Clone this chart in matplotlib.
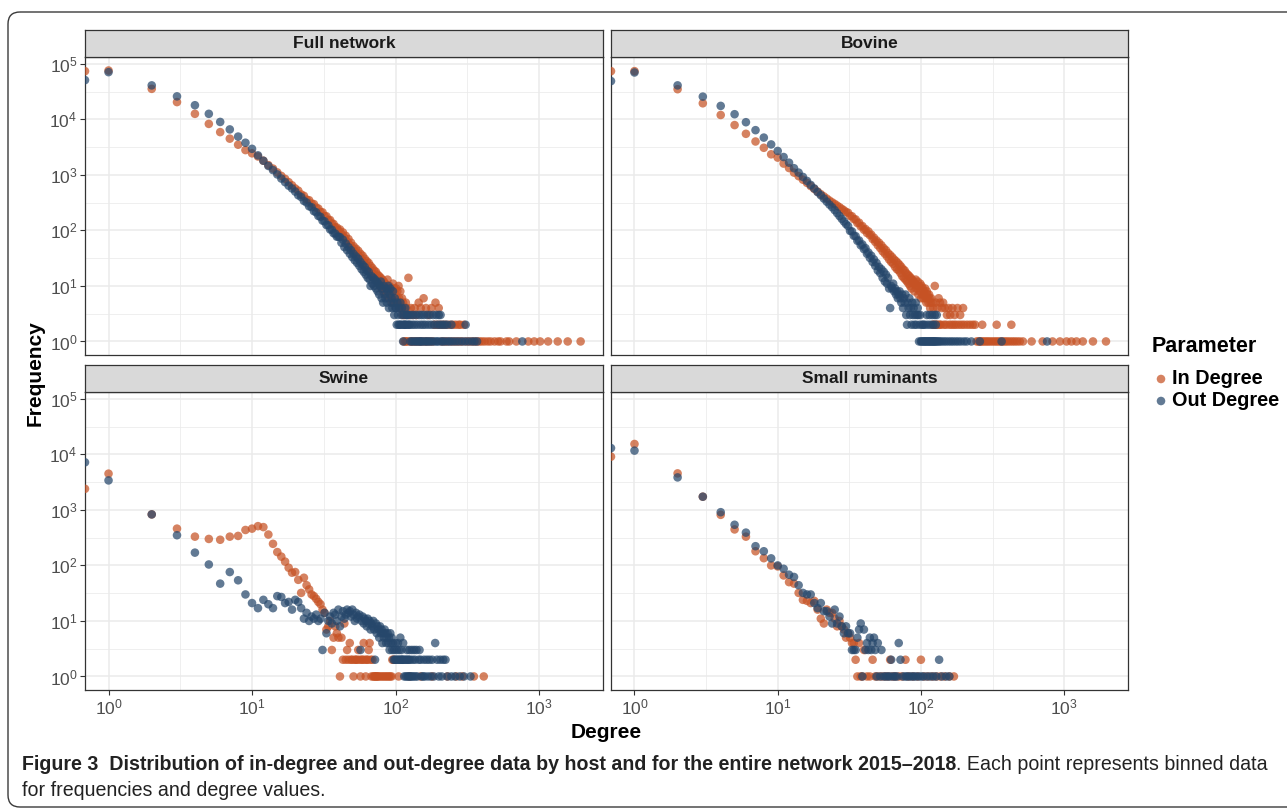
import numpy as np
import matplotlib.pyplot as plt
from matplotlib import font_manager
from matplotlib.ticker import NullFormatter
from matplotlib.patches import FancyBboxPatch

plt.rcParams['font.family'] = ['Liberation Sans', 'DejaVu Sans']
plt.rcParams['mathtext.fontset'] = 'custom'
plt.rcParams['mathtext.rm'] = 'Liberation Sans'
plt.rcParams['mathtext.it'] = 'Liberation Sans:italic'
plt.rcParams['mathtext.bf'] = 'Liberation Sans:bold'

# ---------------- data ----------------
# *_run: frequency for degree 0, 1, 2, ... (consecutive degrees)
# *_xd / *_xf: further (degree, frequency) points
# *_f1, *_f2, *_f3: degrees seen at frequency 1, 2, 3

full_in_run = [74000, 76000, 35500, 20500, 12600, 8300, 5900, 4500, 3500, 2800, 2450,
               2150, 1800, 1500, 1300, 1110, 960, 850, 740, 650, 570,
               520, 445, 420, 360, 350, 305, 298, 258, 248, 215,
               212, 182, 180, 155, 154, 133, 131, 114, 113, 100,
               104, 86, 92, 74, 80, 63, 70, 55, 60, 48,
               52, 42, 47, 37, 43, 33, 38, 30, 35, 27,
               31, 24, 28, 21, 26, 19, 23, 17, 21, 16,
               19, 14, 18, 13, 16, 11, 15, 10, 14, 9,
               13, 8, 12, 9, 11, 7, 10, 13, 8, 6,
               10, 7, 9, 5, 8, 11, 6, 9, 5, 7]
full_in_xd = [101, 102, 103, 104, 105, 106, 107, 108, 109, 110, 111, 112, 113, 115, 116,
              118, 120, 123, 125, 128, 132, 136, 140, 145, 150, 157, 163, 170, 178, 190, 200]
full_in_xf = [9, 6, 8, 5, 10, 6, 4, 8, 5, 4, 6, 3, 5, 4, 3,
              5, 4, 14, 3, 4, 3, 4, 3, 5, 4, 6, 4, 3, 4, 5, 4]
full_in_f2 = [186, 195, 205, 215, 225, 238, 250, 262, 275, 283, 300]
full_in_f1 = [114, 117, 119, 122, 127, 130, 134, 138, 143, 148, 153, 160, 166, 174, 182,
              210, 220, 230, 244, 256, 268, 280, 292, 310, 325, 340, 355, 370, 385, 400,
              418, 440, 460, 490, 520, 540, 594, 620, 695, 842, 926, 1018, 1157, 1350,
              1585, 1950]

full_out_run = [51000, 71000, 41000, 26000, 18000, 12600, 9000, 6600, 4900, 3800, 2950,
                2250, 1800, 1450, 1220, 1020, 860, 740, 640, 570, 500,
                430, 400, 340, 318, 272, 262, 222, 212, 182, 176,
                150, 146, 125, 124, 104, 103, 89, 88, 77, 77,
                76, 60, 68, 50, 58, 44, 50, 38, 44, 33,
                38, 29, 34, 26, 31, 23, 27, 20, 24, 18,
                22, 16, 19, 14, 18, 13, 10, 15, 11, 14,
                10, 13, 9, 12, 8, 11, 7, 10, 12, 6,
                9, 5, 10, 7, 6, 9, 5, 8, 10, 4,
                7, 9, 5, 6, 4, 8, 5, 3, 6, 4]
full_out_xd = [101, 103, 104, 106, 108, 110, 111, 117]
full_out_xf = [4, 5, 3, 4, 5, 3, 4, 4]
full_out_f3 = [114, 119, 120, 123, 128, 133, 139, 146, 152, 158, 166, 174, 183, 192, 200, 206]
full_out_f2 = [102, 105, 107, 109, 112, 115, 116, 118, 121, 124, 126, 131, 136, 142, 149,
               155, 161, 169, 177, 186, 196, 204, 212, 220, 229, 245, 308]
full_out_f1 = [113, 127, 130, 134, 138, 141, 145, 148, 151, 154, 159, 163, 167, 171, 176,
               181, 188, 194, 199, 208, 214, 222, 232, 240, 250, 262, 275, 290, 305, 322,
               340, 355, 370, 765]

bov_in_run = [74000, 74000, 35000, 19500, 12000, 7900, 5500, 4000, 3080, 2350, 2050,
              1600, 1330, 1100, 950, 820, 720, 630, 560, 500, 450,
              410, 375, 345, 320, 300, 280, 262, 245, 230, 215,
              208, 182, 180, 160, 158, 136, 138, 118, 120, 103,
              106, 90, 96, 82, 84, 70, 74, 62, 66, 54,
              60, 48, 54, 42, 48, 38, 44, 34, 39, 30,
              36, 27, 33, 25, 30, 22, 28, 20, 26, 19,
              24, 17, 22, 15, 20, 14, 19, 13, 17, 12,
              16, 11, 15, 10, 14, 9, 13, 11, 12, 8,
              11, 13, 9, 10, 12, 7, 10, 8, 11, 6]
bov_in_xd = [101, 102, 103, 104, 105, 106, 107, 108, 109, 110, 111, 112, 113, 114, 115,
             116, 117, 118, 120, 122, 125, 127, 130, 133, 136, 140, 143, 147, 152, 156,
             160, 166, 172, 180, 188, 197]
bov_in_xf = [10, 7, 9, 6, 8, 7, 9, 6, 5, 8, 7, 6, 5, 7, 6,
             4, 5, 6, 5, 4, 10, 5, 4, 6, 5, 4, 5, 4, 3, 4,
             3, 4, 3, 4, 3, 4]
bov_in_f2 = [121, 124, 128, 131, 135, 138, 145, 150, 158, 164, 170, 176, 184, 192, 200,
             210, 220, 230, 239, 268, 338, 428]
bov_in_f1 = [245, 252, 258, 265, 272, 280, 288, 296, 305, 315, 325, 335, 345, 356, 368,
             380, 392, 405, 420, 436, 452, 470, 490, 516, 593, 708, 830, 935, 1040, 1125,
             1220, 1350, 1590, 1960]

bov_out_run = [49000, 70000, 41000, 25700, 17500, 12400, 8900, 6400, 4700, 3540, 2700,
               2100, 1660, 1320, 1100, 920, 780, 660, 570, 490, 430,
               375, 330, 292, 262, 232, 205, 182, 162, 145, 130,
               120, 98, 96, 80, 79, 65, 66, 54, 56, 46,
               48, 38, 40, 32, 35, 27, 30, 23, 26, 19,
               22, 17, 20, 14, 18, 12, 16, 11, 14, 9,
               4, 10, 9, 11, 8, 9, 7, 8, 6, 7,
               8, 6, 5, 7, 4, 6, 5, 7, 3, 2,
               5, 4, 6, 3, 4, 2, 5, 3, 4, 2,
               3, 5, 2, 3, 4, 3, 1, 2, 3, 1]
bov_out_xd = []
bov_out_xf = []
bov_out_f3 = [110, 115, 120, 125, 129]
bov_out_f2 = [102, 104, 107, 112, 117, 122, 127]
bov_out_f1 = [101, 103, 105, 106, 108, 109, 111, 113, 114, 116, 118, 119, 121, 123, 124,
              126, 128, 130, 133, 136, 140, 145, 150, 156, 162, 168, 175, 182, 190, 200,
              209, 225, 258, 366, 760]

sw_in_run = [2400, 4500, 830, 460, 330, 300, 290, 330, 340, 435, 460,
             510, 490, 360, 245, 174, 144, 117, 91, 74, 76,
             55, 32, 60, 44, 37, 30, 28, 25, 22, 20,
             16, 14, 7, 8, 10, 3, 5, 8, 6, 5]
sw_in_xd = [42, 44, 46, 48, 55, 60, 65, 66]
sw_in_xf = [5, 9, 3, 4, 3, 4, 3, 4]
sw_in_f2 = [43, 45, 47, 49, 50, 52, 53, 54, 56, 58, 59, 61, 63, 64, 67, 69, 95, 97]
sw_in_f1 = [41, 51, 57, 62, 68, 70, 71, 72, 73, 74, 75, 76, 78, 80, 82, 84, 86, 88, 90,
            92, 94, 105, 125, 150, 180, 230, 265, 292, 352, 412]

sw_out_run = [7200, 3400, 830, 350, 170, 104, 47, 76, 54, 30, 21,
              17, 24, 20, 17, 28, 27, 21, 22, 16, 24,
              22, 17, 11, 14, 10, 12, 11, 13, 10, 11,
              3, 14, 6, 10, 12, 9, 14, 13, 10, 16,
              8, 12, 15, 11, 13, 16, 14, 15, 12, 16,
              13, 10, 14, 11, 12, 13, 3, 10, 12, 9,
              11, 10, 8, 11, 9, 10, 7, 9, 8, 10,
              7, 2, 9, 6, 8, 7, 5, 8, 6, 7,
              4, 6, 5, 7, 6, 4, 5, 6, 4, 5,
              3, 6, 4, 5, 3, 4]
sw_out_xd = [98, 100, 102, 104, 106, 108, 110, 113, 120, 125, 130, 135, 140, 147, 189]
sw_out_xf = [3, 4, 3, 4, 3, 5, 3, 4, 3, 3, 3, 3, 3, 3, 4]
sw_out_f2 = [97, 99, 101, 103, 105, 107, 109, 111, 112, 114, 117, 119, 122, 124, 127,
             132, 137, 145, 150, 158, 165, 172, 180, 195, 205, 215, 223]
sw_out_f1 = [115, 118, 121, 123, 126, 128, 131, 134, 138, 142, 152, 156, 160, 168, 176,
             185, 200, 210, 230, 245, 260, 280, 300, 333]

sr_in_run = [9100, 15400, 4550, 1730, 815, 445, 330, 180, 135, 100, 96,
             66, 50, 47, 32, 24, 23, 21, 23, 16, 11,
             9, 16, 14, 14, 11, 8, 10, 8, 7, 5,
             6, 5, 4, 4, 2]
sr_in_xd = [37, 40, 46, 61, 78, 100]
sr_in_xf = [4, 3, 2, 2, 2, 2]
sr_in_f1 = [36, 38, 39, 42, 44, 48, 50, 53, 56, 59, 63, 66, 70, 74, 82, 88, 95, 105, 112,
            120, 128, 137, 146, 158, 170]

sr_out_run = [13000, 11700, 3850, 1730, 910, 540, 390, 222, 180, 134, 100,
              87, 68, 62, 44, 32, 30, 30, 21, 17, 21,
              15, 15, 12, 9, 16, 9, 12, 8, 6, 8,
              6, 6, 3, 3, 3, 5, 7, 9, 1, 7,
              3, 4, 3, 5, 3, 4, 5, 3]
sr_out_xd = [50, 53, 62, 70, 72, 134]
sr_out_xf = [4, 3, 2, 4, 2, 2]
sr_out_f1 = [49, 52, 55, 57, 59, 61, 64, 66, 68, 75, 78, 80, 83, 86, 89, 92, 96, 100, 104,
             110, 116, 122, 128, 140, 150, 158]

panel_titles = ['Full network', 'Bovine', 'Swine', 'Small ruminants']
params = ['In Degree', 'Out Degree']
x_ticks = [1, 10, 100, 1000]
y_ticks = [1, 10, 100, 1000, 10000, 100000]

# ---------------- helpers ----------------
def build(run, xd, xf, tails):
    deg = list(range(len(run))) + list(xd)
    fr = list(run) + list(xf)
    for level, ds in tails:
        deg += list(ds)
        fr += [level] * len(ds)
    return np.array(deg, float), np.array(fr, float)

series = [
    (build(full_in_run, full_in_xd, full_in_xf, [(2, full_in_f2), (1, full_in_f1)]),
     build(full_out_run, full_out_xd, full_out_xf,
           [(3, full_out_f3), (2, full_out_f2), (1, full_out_f1)])),
    (build(bov_in_run, bov_in_xd, bov_in_xf, [(2, bov_in_f2), (1, bov_in_f1)]),
     build(bov_out_run, bov_out_xd, bov_out_xf,
           [(3, bov_out_f3), (2, bov_out_f2), (1, bov_out_f1)])),
    (build(sw_in_run, sw_in_xd, sw_in_xf, [(2, sw_in_f2), (1, sw_in_f1)]),
     build(sw_out_run, sw_out_xd, sw_out_xf, [(2, sw_out_f2), (1, sw_out_f1)])),
    (build(sr_in_run, sr_in_xd, sr_in_xf, [(1, sr_in_f1)]),
     build(sr_out_run, sr_out_xd, sr_out_xf, [(1, sr_out_f1)])),
]

IN_COL = '#C65224'
OUT_COL = '#26476B'
ALPHA = 0.72
MS = 38
XLIM = (10 ** -0.164, 10 ** 3.446)
YLIM = (10 ** -0.244, 10 ** 5.124)

W, H = 1287, 810
fig = plt.figure(figsize=(W / 100, H / 100), dpi=100)


def px_rect(x0, y0, x1, y1):
    return [x0 / W, 1 - y1 / H, (x1 - x0) / W, (y1 - y0) / H]


cols = [(85, 603), (611, 1128)]
rows = [(57, 355), (392, 690)]
strip_h = 27

for k, title in enumerate(panel_titles):
    r, c = divmod(k, 2)
    x0, x1 = cols[c]
    y0, y1 = rows[r]
    ax = fig.add_axes(px_rect(x0, y0, x1, y1))
    ax.set_xscale('log')
    ax.set_yscale('log')
    ax.set_xlim(*XLIM)
    ax.set_ylim(*YLIM)
    ax.set_axisbelow(True)

    (din, fin), (dout, fout) = series[k]
    # degree 0 sits on the panel edge (log of 0 -> -Inf)
    ax.scatter(np.where(din == 0, XLIM[0], din), fin, s=MS, color=IN_COL,
               alpha=ALPHA, edgecolors='none', zorder=3)
    ax.scatter(np.where(dout == 0, XLIM[0], dout), fout, s=MS, color=OUT_COL,
               alpha=ALPHA, edgecolors='none', zorder=3)

    ax.set_xticks(x_ticks, [r'$10^{%d}$' % i for i in range(4)])
    ax.set_yticks(y_ticks, [r'$10^{%d}$' % i for i in range(6)])
    ax.set_xticks([10 ** 0.5, 10 ** 1.5, 10 ** 2.5], minor=True)
    ax.set_yticks([10 ** (i + 0.5) for i in range(5)], minor=True)
    ax.xaxis.set_minor_formatter(NullFormatter())
    ax.yaxis.set_minor_formatter(NullFormatter())
    ax.grid(which='major', color='#EBEBEB', lw=1.1)
    ax.grid(which='minor', color='#EBEBEB', lw=0.55)
    ax.tick_params(which='minor', length=0)
    ax.tick_params(which='major', length=3.5, width=0.8, color='#333333',
                   labelsize=12.5, labelcolor='#4D4D4D', pad=2)
    if r == 0:
        ax.tick_params(which='major', bottom=False, labelbottom=False)
    if c == 1:
        ax.tick_params(which='major', left=False, labelleft=False)
    for sp in ax.spines.values():
        sp.set_color('#333333')
        sp.set_linewidth(0.9)

    sax = fig.add_axes(px_rect(x0, y0 - strip_h, x1, y0))
    sax.set_facecolor('#D9D9D9')
    sax.set_xticks([])
    sax.set_yticks([])
    for sp in sax.spines.values():
        sp.set_color('#333333')
        sp.set_linewidth(0.9)
    sax.text(0.5, 0.5, title, ha='center', va='center', fontsize=12.5,
             fontweight='bold', color='#1A1A1A', transform=sax.transAxes)

# overlay in pixel coordinates for titles, legend, caption and frame
ov = fig.add_axes([0, 0, 1, 1], zorder=-5)
ov.set_xlim(0, W)
ov.set_ylim(H, 0)
ov.axis('off')

ov.add_patch(FancyBboxPatch((8, 12), 1400, 795, boxstyle='round,pad=0,rounding_size=12',
                            fill=False, ec='#3A3A3A', lw=1.0))

ov.text(606, 732, 'Degree', ha='center', va='center', fontsize=15, fontweight='bold')
ov.text(35, 373, 'Frequency', ha='center', va='center', fontsize=15,
        fontweight='bold', rotation=90)

ov.text(1152, 347, 'Parameter', ha='left', va='center', fontsize=15.5, fontweight='bold')
for yy, lab, col in [(379, params[0], IN_COL), (401, params[1], OUT_COL)]:
    ov.scatter([1161], [yy], s=MS, color=col, alpha=ALPHA, edgecolors='none')
    ov.text(1172, yy, lab, ha='left', va='center', fontsize=14.3, fontweight='bold')

# caption
cap_font = 'Liberation Sans'
try:
    font_manager.findfont('Liberation Sans Narrow', fallback_to_default=False)
    cap_font = 'Liberation Sans Narrow'
except Exception:
    pass

bold_part = ('Figure 3  Distribution of in-degree and out-degree data by host and '
             'for the entire network 2015\u20132018')
norm_part = '. Each point represents binned data'
line2 = 'for frequencies and degree values.'

size = 13
t1 = ov.text(22, 765, bold_part, ha='left', va='center', fontsize=size,
             fontweight='bold', family=cap_font, color='#222222')
t2 = ov.text(0, 765, norm_part, ha='left', va='center', fontsize=size,
             family=cap_font, color='#222222')
t3 = ov.text(22, 790, line2, ha='left', va='center', fontsize=size,
             family=cap_font, color='#222222')
fig.canvas.draw()
rend = fig.canvas.get_renderer()
w_total = t1.get_window_extent(rend).width + t2.get_window_extent(rend).width
size = size * 1240 / w_total
for t in (t1, t2, t3):
    t.set_fontsize(size)
fig.canvas.draw()
w1 = t1.get_window_extent(rend).width
t2.set_x(22 + w1)

fig.savefig('out.png', dpi=100)
